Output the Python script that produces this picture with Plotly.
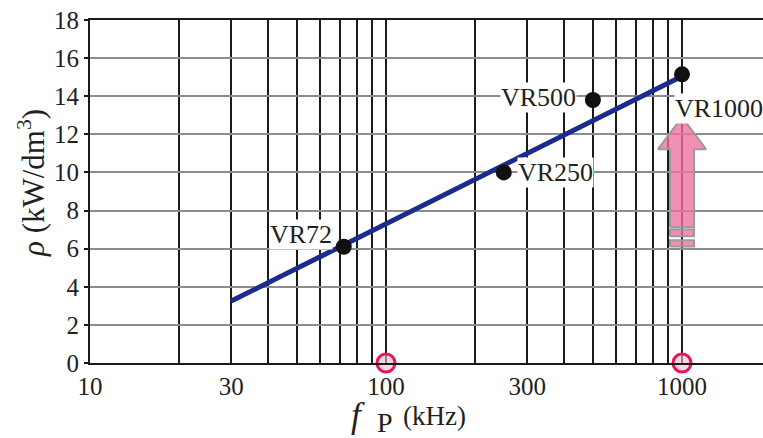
import numpy as np
import plotly.graph_objects as go

# ---- data ----
device_names = ["VR72", "VR250", "VR500", "VR1000"]
device_freq_khz = [72, 250, 500, 1000]
device_density = [6.1, 10.0, 13.8, 15.15]

trend_freq_khz = [30, 1000]
trend_density = [3.25, 15.05]

marked_freq_khz = [100, 1000]
marked_density = [0, 0]

x_grid_vals = [10, 20, 30, 40, 50, 60, 70, 80, 90, 100,
               200, 300, 400, 500, 600, 700, 800, 900, 1000]
x_label_vals = [10, 30, 100, 300, 1000]
y_tick_vals = [0, 2, 4, 6, 8, 10, 12, 14, 16, 18]

# arrow (density span of the upward arrow at 1 MHz)
arrow_freq = 1000
arrow_tip = 12.9
arrow_head_base = 11.22
arrow_bottom = 7.12
arrow_stripes = [(6.65, 7.01), (6.12, 6.44)]

# ---- layout geometry ----
W, H = 763, 438
ML, MR, MT, MB = 90, 0, 20, 75
PW, PH = W - ML - MR, H - MT - MB
PX_PER_DEC = 296.0
x_range = [1.0, 1.0 + PW / PX_PER_DEC]

FONT = "Liberation Serif, Times New Roman, serif"
TXT = "#231f20"

def xoff(xc, px):
    return xc * 10 ** (px / PX_PER_DEC)

def px_x(p):
    return (p - ML) / PW

def px_y(p):
    return (H - MB - p) / PH

fig = go.Figure()

# trend line
fig.add_trace(go.Scatter(x=trend_freq_khz, y=trend_density, mode="lines",
                         line=dict(color="#1c2c8c", width=5), hoverinfo="skip"))

# arrow body
shaft, head = 12, 24
ax = [xoff(arrow_freq, -shaft), xoff(arrow_freq, -shaft), xoff(arrow_freq, -head),
      arrow_freq, xoff(arrow_freq, head), xoff(arrow_freq, shaft), xoff(arrow_freq, shaft),
      xoff(arrow_freq, -shaft)]
ay = [arrow_bottom, arrow_head_base, arrow_head_base, arrow_tip, arrow_head_base,
      arrow_head_base, arrow_bottom, arrow_bottom]
PINK = "rgba(240,110,160,0.78)"
fig.add_trace(go.Scatter(x=ax, y=ay, mode="lines", fill="toself", fillcolor=PINK,
                         line=dict(color="#9a9a9a", width=2), hoverinfo="skip"))
for lo, hi in arrow_stripes:
    sx = [xoff(arrow_freq, -shaft), xoff(arrow_freq, shaft), xoff(arrow_freq, shaft),
          xoff(arrow_freq, -shaft), xoff(arrow_freq, -shaft)]
    sy = [lo, lo, hi, hi, lo]
    fig.add_trace(go.Scatter(x=sx, y=sy, mode="lines", fill="toself", fillcolor=PINK,
                             line=dict(color="#9a9a9a", width=2), hoverinfo="skip"))

# device points
fig.add_trace(go.Scatter(x=device_freq_khz, y=device_density, mode="markers",
                         marker=dict(color="#111111", size=16), hoverinfo="skip"))

# marked circles on the axis
fig.add_trace(go.Scatter(x=marked_freq_khz, y=marked_density, mode="markers",
                         marker=dict(color="rgba(245,190,210,0.6)", size=18,
                                     line=dict(color="#e5185f", width=3)),
                         cliponaxis=False, hoverinfo="skip"))

# device labels
label_offsets = {  # (xanchor, xshift, yshift)
    "VR72": ("right", -11, 12),
    "VR250": ("left", 13, 0),
    "VR500": ("right", -16, 3),
    "VR1000": ("left", -8, -34),
}
for name, fx, fy in zip(device_names, device_freq_khz, device_density):
    xa, xs, ys = label_offsets[name]
    fig.add_annotation(x=np.log10(fx), y=fy, xref="x", yref="y", text=name,
                       showarrow=False, xanchor=xa, yanchor="middle",
                       xshift=xs, yshift=ys, bgcolor="white", borderpad=0,
                       font=dict(family=FONT, size=26, color=TXT))

# x axis title: f_P (kHz)
fig.add_annotation(x=px_x(349), y=px_y(415), xref="paper", yref="paper",
                   text="<i>f</i>", showarrow=False, xanchor="left", yanchor="middle",
                   font=dict(family=FONT, size=35, color=TXT))
fig.add_annotation(x=px_x(375), y=px_y(422), xref="paper", yref="paper",
                   text="P", showarrow=False, xanchor="left", yanchor="middle",
                   font=dict(family=FONT, size=28, color=TXT))
fig.add_annotation(x=px_x(401), y=px_y(416), xref="paper", yref="paper",
                   text="(kHz)", showarrow=False, xanchor="left", yanchor="middle",
                   font=dict(family=FONT, size=27, color=TXT))
# y axis title
fig.add_annotation(x=px_x(31), y=px_y(183), xref="paper", yref="paper",
                   text="<i>ρ</i> (kW/dm<sup>3</sup>)", showarrow=False, textangle=-90,
                   xanchor="center", yanchor="middle",
                   font=dict(family=FONT, size=31, color=TXT))

fig.update_layout(
    width=W, height=H, margin=dict(l=ML, r=MR, t=MT, b=MB, autoexpand=False),
    paper_bgcolor="white", plot_bgcolor="white", showlegend=False,
    font=dict(family=FONT, size=25, color=TXT),
    xaxis=dict(type="log", range=x_range, tickmode="array", tickvals=x_grid_vals,
               ticktext=[str(v) if v in x_label_vals else "" for v in x_grid_vals],
               showgrid=True, gridcolor="#1a1a1a", gridwidth=1.5,
               showline=True, linecolor="#1a1a1a", linewidth=2, mirror=True,
               ticks="", zeroline=False, ticklabelstandoff=0),
    yaxis=dict(range=[0, 18], tickmode="array", tickvals=y_tick_vals,
               showgrid=True, gridcolor="#8c8c8c", gridwidth=1.5,
               showline=True, linecolor="#1a1a1a", linewidth=2,
               ticks="outside", ticklen=4, tickcolor="#1a1a1a", tickwidth=1.5,
               zeroline=False),
)

fig.write_html("out.html", config={"displayModeBar": False},
               post_script="document.body.style.margin='0';")
